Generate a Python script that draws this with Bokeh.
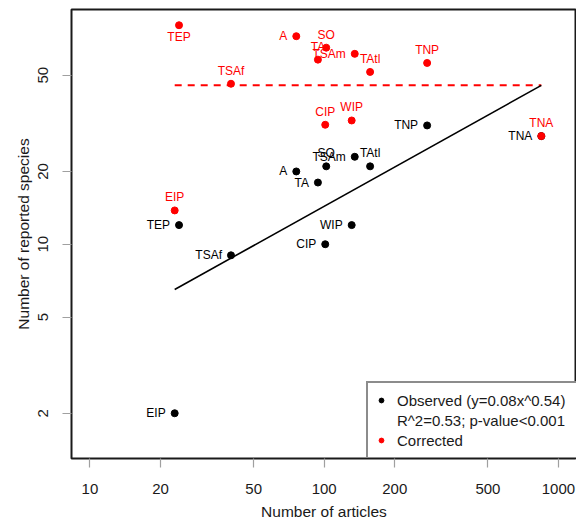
from bokeh.plotting import figure
from bokeh.models import (ColumnDataSource, FixedTicker, PrintfTickFormatter,
                          Legend, LegendItem, Range1d)
from bokeh.core.properties import value
from bokeh.embed import file_html
from bokeh.resources import INLINE

# ---- data ----
sites = ["TEP", "A", "SO", "TA", "TSAm", "TAtl", "TNP", "TSAf", "CIP", "WIP", "TNA", "EIP"]
articles = [24, 76, 102, 94, 135, 157, 275, 40, 101, 131, 845, 23]
observed = [12, 20, 21, 18, 23, 21, 31, 9, 10, 12, 28, 2]
corrected = [80.5, 72.5, 65, 58, 61.3, 51.6, 56.2, 46.1, 31.2, 32.5, 28, 13.8]

# label placement relative to each point
obs_label_side = ["left", "left", "above", "left", "left", "above", "left", "left", "left", "left", "left", "left"]
cor_label_side = ["below", "left", "above", "above", "left", "above", "above", "above", "above", "above", "above", "above"]

fit_x = [23, 845]        # fitted power law, end points
fit_y = [6.5, 45.4]
ref_x = [23, 845]        # dashed reference level
ref_y = [45.4, 45.4]

x_ticks = [10, 20, 50, 100, 200, 500, 1000]
y_ticks = [2, 5, 10, 20, 50]

legend_labels = ["Observed (y=0.08x^0.54)", "R^2=0.53; p-value<0.001", "Corrected"]

FONT = "Liberation Sans"
RED = "#FF0000"


def label_style(sides):
    align = {"left": "right", "above": "center", "below": "center"}
    xo = {"left": -9, "above": 0, "below": 0}
    yo = {"left": 0, "above": -13, "below": 12}
    return ([align[s] for s in sides], [xo[s] for s in sides], [yo[s] for s in sides])


oa, ox, oy = label_style(obs_label_side)
ca, cx, cy = label_style(cor_label_side)

src = ColumnDataSource(dict(site=sites, articles=articles, observed=observed,
                            corrected=corrected, oa=oa, ox=ox, oy=oy,
                            ca=ca, cx=cx, cy=cy))

p = figure(width=576, height=524, x_axis_type="log", y_axis_type="log",
           x_range=Range1d(8.34, 1194), y_range=Range1d(1.30, 93.5),
           output_backend="svg", toolbar_location=None,
           min_border_left=71, min_border_right=0, min_border_top=9,
           min_border_bottom=66)

p.xgrid.visible = False
p.ygrid.visible = False
p.outline_line_color = "#1a1a1a"
p.outline_line_width = 2
p.background_fill_color = "white"
p.border_fill_color = "white"

for ax in (p.xaxis[0], p.yaxis[0]):
    ax.axis_line_color = None
    ax.major_tick_line_color = "#a0a0a0"
    ax.major_tick_line_width = 1.2
    ax.major_tick_in = 0
    ax.major_tick_out = 9
    ax.minor_tick_line_color = None
    ax.major_label_text_font = FONT
    ax.major_label_text_font_size = "15px"
    ax.major_label_text_color = "#1a1a1a"
    ax.axis_label_text_font = FONT
    ax.axis_label_text_font_size = "15.5px"
    ax.axis_label_text_font_style = "normal"
    ax.axis_label_text_color = "#1a1a1a"
    ax.formatter = PrintfTickFormatter(format="%d")

p.xaxis.ticker = FixedTicker(ticks=x_ticks)
p.yaxis.ticker = FixedTicker(ticks=y_ticks)
p.xaxis.axis_label = "Number of articles"
p.yaxis.axis_label = "Number of reported species"
p.yaxis.major_label_orientation = "vertical"
p.xaxis.major_label_standoff = 16
p.xaxis.axis_label_standoff = 6
p.yaxis.major_label_standoff = 14
p.yaxis.axis_label_standoff = 4

# lines
p.line(ref_x, ref_y, line_color=RED, line_width=2, line_dash="7 6")
p.line(fit_x, fit_y, line_color="black", line_width=1.6)

# observed
r_obs = p.scatter("articles", "observed", source=src, size=7, color="black")
p.text("articles", "observed", text="site", source=src, text_align="oa",
       x_offset="ox", y_offset="oy", text_baseline="middle",
       text_font=value(FONT), text_font_size="12px", text_color="black")

# corrected
r_cor = p.scatter("articles", "corrected", source=src, size=7, color=RED)
p.text("articles", "corrected", text="site", source=src, text_align="ca",
       x_offset="cx", y_offset="cy", text_baseline="middle",
       text_font=value(FONT), text_font_size="12px", text_color=RED)

# invisible renderer for the text-only legend row
r_blank = p.scatter([None], [None], size=0, fill_alpha=0, line_alpha=0)

legend = Legend(items=[LegendItem(label=legend_labels[0], renderers=[r_obs]),
                       LegendItem(label=legend_labels[1], renderers=[r_blank]),
                       LegendItem(label=legend_labels[2], renderers=[r_cor])],
                location=(295, -1), orientation="vertical",
                padding=7, margin=0, spacing=0,
                glyph_width=12, glyph_height=20, label_height=20,
                label_width=190, label_standoff=10,
                label_text_font=FONT, label_text_font_size="15px",
                label_text_color="#1a1a1a",
                border_line_color="#1a1a1a", border_line_width=2,
                background_fill_color="white", background_fill_alpha=1)
p.add_layout(legend, "center")

open("out.html", "w").write(file_html(p, INLINE))
